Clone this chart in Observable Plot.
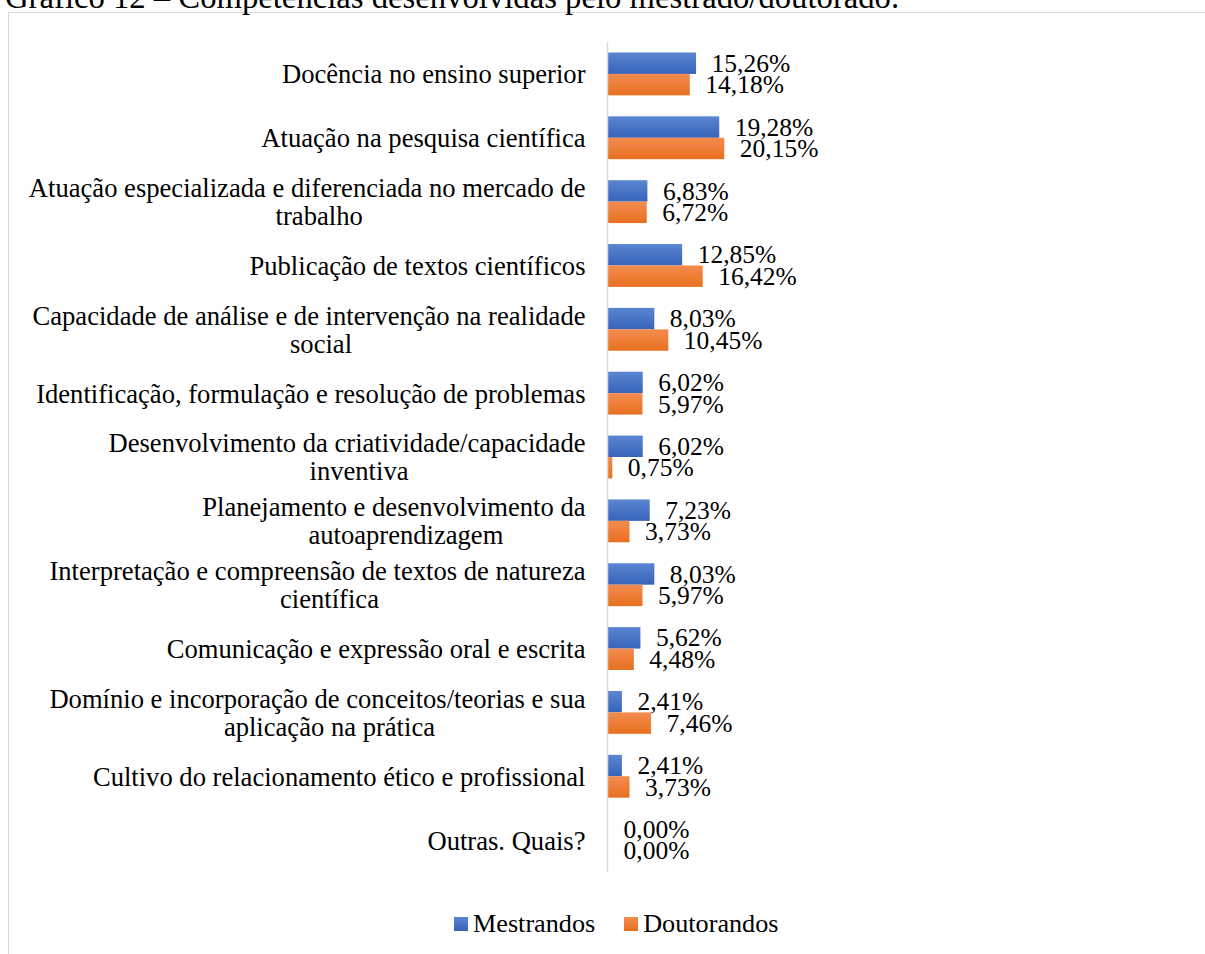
<!DOCTYPE html>
<html><head><meta charset="utf-8">
<script src="https://cdn.jsdelivr.net/npm/d3@7"></script>
<script src="https://cdn.jsdelivr.net/npm/@observablehq/plot@0.6"></script>
<style>
body{margin:0;background:#fff;width:1205px;height:954px;overflow:hidden;position:relative;font-family:"Liberation Serif","Times New Roman",serif;color:#000}
#title{position:absolute;left:5px;top:-19px;font-size:32.7px;line-height:32px;white-space:nowrap}
#frame{position:absolute;left:8px;top:12px;width:1300px;height:1000px;border:1px solid #d9d9d9;box-sizing:border-box}
#chart{position:absolute;left:0;top:0}
#legend{position:absolute;left:454px;top:911px;font-size:26.2px;line-height:26px;display:flex;align-items:center;white-space:nowrap}
.sw{width:14px;height:14px;display:inline-block;margin-right:5px}
</style></head>
<body>
<div id="frame"></div>
<div id="title">Gráfico 12 – Competências desenvolvidas pelo mestrado/doutorado.</div>
<div id="chart"></div>
<div id="legend"></div>
<script>
const categories = [
  "Docência no ensino superior",
  "Atuação na pesquisa científica",
  "Atuação especializada e diferenciada no mercado de trabalho",
  "Publicação de textos científicos",
  "Capacidade de análise e de intervenção na realidade social",
  "Identificação, formulação e resolução de problemas",
  "Desenvolvimento da criatividade/capacidade inventiva",
  "Planejamento e desenvolvimento da autoaprendizagem",
  "Interpretação e compreensão de textos de natureza científica",
  "Comunicação e expressão oral e escrita",
  "Domínio e incorporação de conceitos/teorias e sua aplicação na prática",
  "Cultivo do relacionamento ético e profissional",
  "Outras. Quais?"
];
const categoryLines = [
  "Docência no ensino superior",
  "Atuação na pesquisa científica",
  "Atuação especializada e diferenciada no mercado de\ntrabalho",
  "Publicação de textos científicos",
  "Capacidade de análise e de intervenção na realidade\nsocial",
  "Identificação, formulação e resolução de problemas",
  "Desenvolvimento da criatividade/capacidade\ninventiva",
  "Planejamento e desenvolvimento da\nautoaprendizagem",
  "Interpretação e compreensão de textos de natureza\ncientífica",
  "Comunicação e expressão oral e escrita",
  "Domínio e incorporação de conceitos/teorias e sua\naplicação na prática",
  "Cultivo do relacionamento ético e profissional",
  "Outras. Quais?"
];
const series = ["Mestrandos", "Doutorandos"];
const mestrandos = [15.26, 19.28, 6.83, 12.85, 8.03, 6.02, 6.02, 7.23, 8.03, 5.62, 2.41, 2.41, 0.00];
const doutorandos = [14.18, 20.15, 6.72, 16.42, 10.45, 5.97, 0.75, 3.73, 5.97, 4.48, 7.46, 3.73, 0.00];
const seriesColors = {Mestrandos: ["#5b86d3", "#3763b9"], Doutorandos: ["#f38c4f", "#e8701f"]};

const data = categories.flatMap((c, i) => [
  {category: c, series: "Mestrandos", value: mestrandos[i]},
  {category: c, series: "Doutorandos", value: doutorandos[i]}
]);
const wrap = new Map(categories.map((c, i) => [c, categoryLines[i]]));
const fmt = v => v.toFixed(2).replace(".", ",") + "%";
const FS_CAT = 26.6, FS_VAL = 25.5;

const chart = Plot.plot({
  width: 1205, height: 900,
  marginLeft: 608, marginRight: 20, marginTop: 42, marginBottom: 28,
  style: {fontFamily: '"Liberation Serif", "Times New Roman", serif', fontSize: FS_VAL + "px", color: "#000", background: "transparent", overflow: "visible"},
  x: {domain: [0, 100], axis: null},
  fy: {domain: categories, padding: 0, round: false, label: null},
  y: {domain: series, paddingInner: 0, paddingOuter: 0.49, round: false, axis: null},
  marks: [
    Plot.barX(data.filter(d => d.series === "Mestrandos"), {x: "value", y: "series", fy: "category", fill: "url(#gradM)"}),
    Plot.barX(data.filter(d => d.series === "Doutorandos"), {x: "value", y: "series", fy: "category", fill: "url(#gradD)"}),
    Plot.ruleX([0], {stroke: "#d9d9d9", strokeWidth: 1.5, dx: -1}),
    Plot.text(data, {x: "value", y: "series", fy: "category", text: d => fmt(d.value), textAnchor: "start", dx: 15, dy: 0, fontSize: FS_VAL, fill: "#000"}),
    Plot.axisFy({anchor: "left", tickFormat: c => wrap.get(c), tickSize: 0, tickPadding: 23, fontSize: FS_CAT, lineHeight: 1.05, textAnchor: "end", label: null, fill: "#000"})
  ]
});
document.getElementById("chart").appendChild(chart);

// gradients
const svg = d3.select(chart);
const defs = svg.insert("defs", ":first-child");
for (const [id, s] of [["gradM", "Mestrandos"], ["gradD", "Doutorandos"]]) {
  const g = defs.append("linearGradient").attr("id", id).attr("x1", 0).attr("y1", 0).attr("x2", 0).attr("y2", 1);
  g.append("stop").attr("offset", "0%").attr("stop-color", seriesColors[s][0]);
  g.append("stop").attr("offset", "100%").attr("stop-color", seriesColors[s][1]);
}

// center continuation lines of wrapped labels (as in the original, slightly right of centre)
svg.selectAll('g[aria-label="fy-axis tick label"] text').each(function() {
  const tspans = this.querySelectorAll("tspan");
  if (tspans.length < 2) return;
  let w = 0;
  tspans.forEach(t => { w = Math.max(w, t.getComputedTextLength()); });
  this.setAttribute("text-anchor", "middle");
  tspans.forEach((t, i) => t.setAttribute("x", -w / 2 + (i > 0 ? 12 : 0)));
});

// legend
const legend = d3.select("#legend");
series.forEach((s, i) => {
  const item = legend.append("span").style("display", "inline-flex").style("align-items", "center").style("margin-right", i === 0 ? "29px" : "0");
  item.append("span").attr("class", "sw").style("background", `linear-gradient(${seriesColors[s][0]}, ${seriesColors[s][1]})`);
  item.append("span").text(s);
});
</script>
</body></html>
